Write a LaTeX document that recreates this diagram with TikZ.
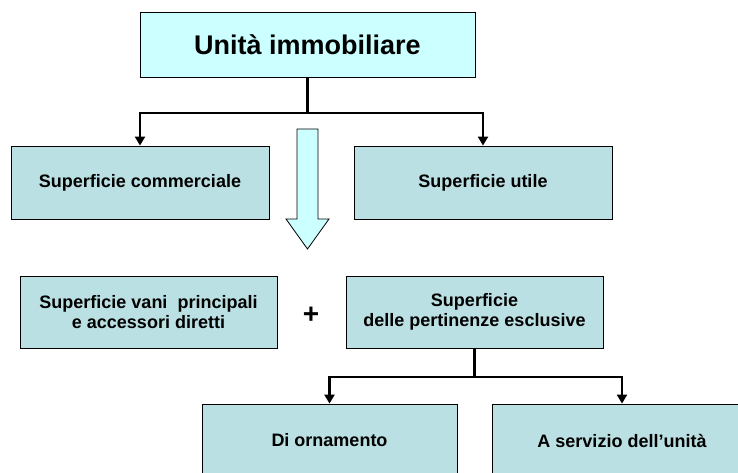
\documentclass[tikz,border=0pt]{standalone}
\usepackage{fontspec}
\setmainfont{Liberation Sans}
\usetikzlibrary{arrows.meta,calc}
\definecolor{topcyan}{RGB}{204,255,255}
\definecolor{boxblue}{RGB}{187,224,227}

\begin{document}
\begin{tikzpicture}[>={Triangle[length=9pt,width=10pt]},x=1pt,y=-1pt,
  box/.style={draw=black,line width=0.8pt,fill=boxblue,minimum width=257pt,
    minimum height=73pt,inner sep=0pt,align=center,
    font=\fontsize{18}{20.5}\selectfont\bfseries},
  link/.style={->,line width=2.1pt}]
\useasboundingbox (0,0) rectangle (738,472);
\clip (0,0) rectangle (738,472);
\node [box,fill=topcyan,minimum width=335pt,minimum height=65pt,
  font=\fontsize{27}{30}\selectfont\bfseries] (U) at (307.5,44.5) {Unità immobiliare};
\node [box,minimum width=258pt] (SC) at (140,182.5) {Superficie commerciale};
\node [box,minimum width=258pt] (SU) at (483,182.5) {Superficie utile};
\node [box,minimum height=72pt] (SV) at (148.5,312) {Superficie vani~ principali\\e accessori diretti};
\node [box,minimum height=72pt] (SP) at (474.5,312) {Superficie\\delle pertinenze esclusive};
\node [font=\fontsize{28}{28}\selectfont\bfseries] (plus) at (311,315) {+};
\node [box,minimum width=255pt] (DO) at (329.5,440.5) {Di ornamento};
\node [box,minimum width=260pt] (AS) at (622,440.5) {A servizio dell’unità};
\coordinate (J1) at ($(U.south)+(0,35.5)$);
\coordinate (J2) at ($(SP.south)+(0,29)$);
\draw [link] (U.south) -- (J1) -| (SC.north);
\draw [link] (J1) -| (SU.north);
\draw [link] (SP.south) -- (J2) -| (DO.north);
\draw [link] (J2) -| (AS.north);
% big down arrow
\draw [fill=topcyan,line width=0.8pt] (297,129) -- (318,129) -- (318,219) -- (329,219)
  -- (307.5,249) -- (286,219) -- (297,219) -- cycle;
\end{tikzpicture}
\end{document}
